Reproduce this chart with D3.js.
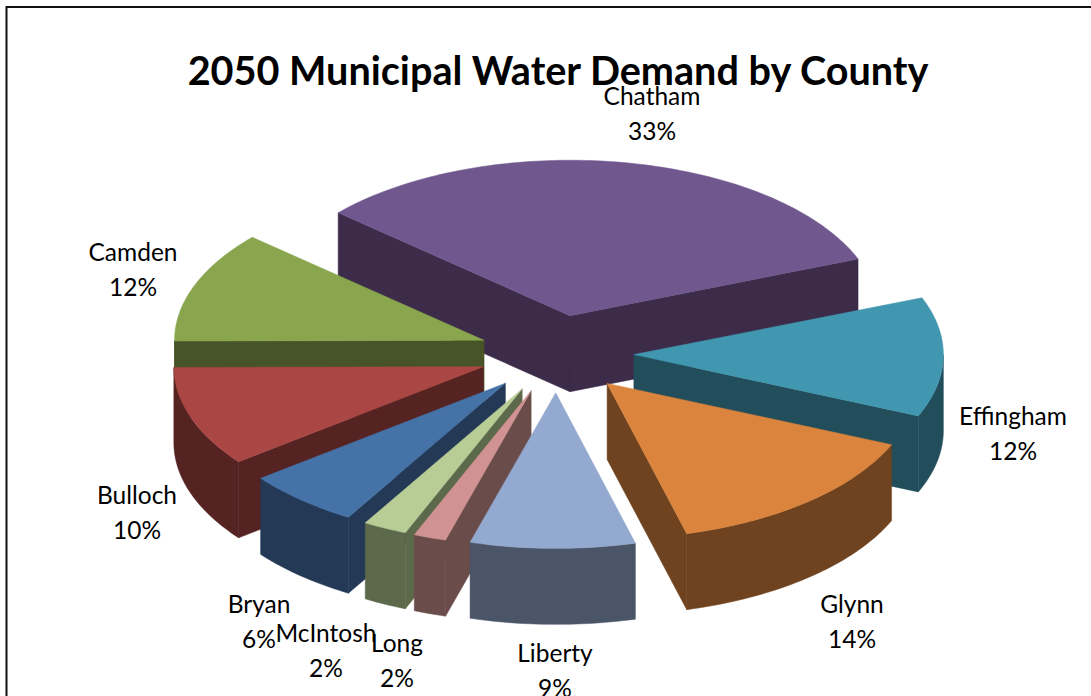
<!DOCTYPE html>
<html>
<head>
<meta charset="utf-8">
<script src="https://d3js.org/d3.v7.min.js"></script>
<style>
    body { margin: 0; background: #fff; }
    text { font-family: Lato, "Open Sans", sans-serif; fill: #000; text-anchor: middle; }
    .title { font-size: 39.6px; font-weight: 700; }
    .label { font-size: 24.5px; }
</style>
</head>
<body>
<svg id="chart" width="1091" height="696"></svg>
<script>
'use strict';
// Values (share of demand, percent)
const counties = ['Chatham', 'Effingham', 'Glynn', 'Liberty', 'Long', 'McIntosh', 'Bryan', 'Bulloch', 'Camden'];
const shares = [32.5, 12.4, 14.4, 8.6, 1.7, 2.3, 6.05, 10.4, 11.6];
const topColors = ['#70588f', '#4197af', '#db843d', '#93a9cf', '#d09292', '#b8cd96', '#4572a7', '#aa4643', '#89a54e'];
const sideColors = ['#3c2b49', '#224d5b', '#6f431f', '#4a5568', '#6a4c4b', '#5d694b', '#233956', '#552322', '#465427'];

const chartTitle = '2050 Municipal Water Demand by County';

const svg = d3.select('#chart');

// Pie layout
const size = { cx: 556.5, cy: 354, rx: 309.5, ry: 155.5, depth: 76, explode: 0.25 };
const startAngle = -48.5 * Math.PI / 180;

const x = d3.scaleLinear().domain([-1, 1]).range([size.cx - size.rx, size.cx + size.rx]);
const y = d3.scaleLinear().domain([-1, 1]).range([size.cy - size.ry, size.cy + size.ry]);

const pie = d3.pie().sort(null).startAngle(startAngle).endAngle(startAngle + 2 * Math.PI);
const slices = pie(shares).map((d, i) => {
    const mid = (d.startAngle + d.endAngle) / 2;
    return {
        name: counties[i],
        top: topColors[i],
        side: sideColors[i],
        a0: d.startAngle,
        a1: d.endAngle,
        ox: size.explode * Math.sin(mid),
        oy: -size.explode * Math.cos(mid)
    };
});

// Ground point of a slice at angle a (clockwise from the back) and radius r
function point(s, a, r, down) {
    return [
        x(s.ox + r * Math.sin(a)),
        y(s.oy - r * Math.cos(a)) + (down ? size.depth : 0)
    ];
}

const line = d3.line();

function arcPoints(s, a0, a1, down) {
    const n = Math.max(2, Math.ceil((a1 - a0) / 0.02));
    return d3.range(n + 1).map(k => point(s, a0 + (a1 - a0) * k / n, 1, down));
}

function topPath(s) {
    return line([point(s, 0, 0, false)].concat(arcPoints(s, s.a0, s.a1, false))) + 'Z';
}

function cutPath(s, a) {
    return line([point(s, 0, 0, false), point(s, a, 1, false), point(s, a, 1, true), point(s, 0, 0, true)]) + 'Z';
}

// Outer wall, only the part of the rim facing the viewer
function wallPath(s) {
    const from = Math.max(s.a0, Math.PI / 2);
    const to = Math.min(s.a1, 3 * Math.PI / 2);
    if (from >= to) return null;
    return line(arcPoints(s, from, to, false).concat(arcPoints(s, from, to, true).reverse())) + 'Z';
}

// Chart area border (top and left only are in the frame)
svg.append('path')
    .attr('d', 'M6.5,696V7H1091')
    .attr('fill', 'none')
    .attr('stroke', '#111')
    .attr('stroke-width', 2);

// Back to front
const ordered = slices.slice().sort((a, b) => d3.ascending(a.oy, b.oy));

const groups = svg.append('g')
    .selectAll('g')
    .data(ordered)
    .enter()
    .append('g')
    .attr('class', 'slice');

groups.each(function (s) {
    const g = d3.select(this);
    // cut faces turned away from the viewer stay hidden
    const sides = [
        Math.sin(s.a0) < 0 ? cutPath(s, s.a0) : null,
        Math.sin(s.a1) > 0 ? cutPath(s, s.a1) : null,
        wallPath(s)
    ].filter(p => p);
    g.selectAll('path.side')
        .data(sides)
        .enter()
        .append('path')
        .attr('class', 'side')
        .attr('d', p => p)
        .attr('fill', s.side)
        .attr('stroke', s.side)
        .attr('stroke-width', 0.5);
    g.append('path')
        .attr('d', topPath(s))
        .attr('fill', s.top)
        .attr('stroke', s.top)
        .attr('stroke-width', 0.5);
});

// Data labels, placed by hand the way the picture has them
const labelPos = {
    Chatham: [652, 105], Effingham: [1013, 425], Glynn: [852, 613],
    Liberty: [555, 662], Long: [397, 652], McIntosh: [326, 642],
    Bryan: [259, 613], Bulloch: [137, 504], Camden: [133, 261]
};
const lineGap = 35;

const labels = svg.append('g')
    .selectAll('text')
    .data(counties)
    .enter()
    .append('text')
    .attr('class', 'label')
    .attr('transform', d => 'translate(' + labelPos[d][0] + ',' + labelPos[d][1] + ')');

labels.append('tspan')
    .attr('x', 0)
    .attr('y', 0)
    .text(d => d);

labels.append('tspan')
    .attr('x', 0)
    .attr('y', lineGap)
    .text((d, i) => Math.round(shares[i]) + '%');

svg.append('text')
    .attr('class', 'title')
    .attr('x', 558)
    .attr('y', 85)
    .text(chartTitle);
</script>
</body>
</html>
